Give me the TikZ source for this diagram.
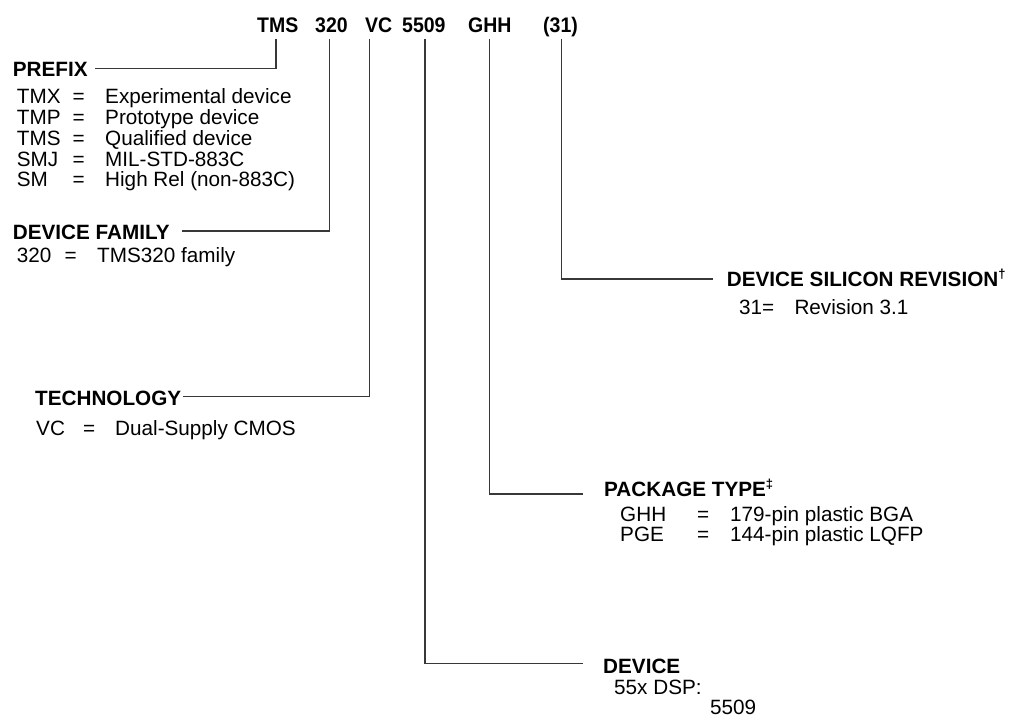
\documentclass[tikz,border=0pt]{standalone}
\usepackage{fontspec}
\setmainfont{Liberation Sans}
\begin{document}
\begin{tikzpicture}[x=1pt,y=-1pt,
  txt/.style={anchor=base west, inner sep=0pt, font=\fontsize{20.7}{24}\selectfont},
  hd/.style={anchor=base west, inner sep=0pt, font=\fontsize{20.7}{24}\selectfont\bfseries},
  ttl/.style={anchor=base west, inner sep=0pt, font=\fontsize{19.5}{22}\selectfont\bfseries},
  ln/.style={line width=1.2pt, draw=black!78}]
\useasboundingbox (0,0) rectangle (1020,723);
% top part number
\node[ttl] (tTMS) at (257,32.7) {\scalebox{1}[1.08]{TMS}};
\node[ttl] (t320) at (315,32.7) {\scalebox{1}[1.08]{320}};
\node[ttl] (tVC) at (365,32.7) {\scalebox{1}[1.08]{VC}};
\node[ttl] (t5509) at (402,32.7) {\scalebox{1}[1.08]{5509}};
\node[ttl] (tGHH) at (468,32.7) {\scalebox{1}[1.08]{GHH}};
\node[ttl] (t31) at (543,32.7) {\scalebox{1}[1.08]{(31)}};
% end coordinates
\coordinate (ePrefix) at (95,68.5);
\coordinate (eFam) at (182,231);
\coordinate (eTech) at (183,396.5);
\coordinate (eRev) at (713,279);
\coordinate (ePkg) at (582.7,494);
\coordinate (eDev) at (582.7,663.5);
% PREFIX
\node[hd] (prefix) at (12.7,76) {PREFIX};
\foreach \i/\c/\d/\y in {1/TMX/Experimental device/103, 2/TMP/Prototype device/124, 3/TMS/Qualified device/145, 4/SMJ/MIL-STD-883C/166, 5/SM/High Rel (non-883C)/186.7}{
  \node[txt] (pc\i) at (16.7,\y) {\c};
  \node[txt] (pe\i) at (72.5,\y) {=};
  \node[txt] (pd\i) at (105,\y) {\d};
}
% DEVICE FAMILY
\node[hd] (family) at (12.7,239) {DEVICE FAMILY};
\node[txt] (fc) at (16.7,262.7) {320};
\node[txt] (fe) at (64.5,262.7) {=};
\node[txt] (fd) at (97,262.7) {TMS320 family};
% TECHNOLOGY
\node[hd] (tech) at (35,405.5) {TECHNOLOGY};
\node[txt] (tc) at (36,435) {VC};
\node[txt] (te) at (83,435) {=};
\node[txt] (td) at (115,435) {Dual-Supply CMOS};
% SILICON REVISION
\node[hd] (rev) at (726.7,286.7) {DEVICE SILICON REVISION\raisebox{0.4em}{\fontsize{13}{13}\selectfont\bfseries †}};
\node[txt] (rc) at (739,314.3) {31=};
\node[txt] (rd) at (794.3,314.3) {Revision 3.1};
% PACKAGE TYPE
\node[hd] (pkg) at (604,496.7) {PACKAGE TYPE\raisebox{0.4em}{\fontsize{13}{13}\selectfont\bfseries ‡}};
\node[txt] (kc1) at (620,521.7) {GHH};
\node[txt] (ke1) at (697,521.7) {=};
\node[txt] (kd1) at (730,521.7) {179-pin plastic BGA};
\node[txt] (kc2) at (620,541.7) {PGE};
\node[txt] (ke2) at (697,541.7) {=};
\node[txt] (kd2) at (730,541.7) {144-pin plastic LQFP};
% DEVICE
\node[hd] (dev) at (603,673.3) {DEVICE};
\node[txt] (dc) at (614,694) {55x DSP:};
\node[txt] (dd) at (710,714) {5509};
% connectors
\draw[ln] ([xshift=19pt,yshift=-5.8pt]tTMS.base west) |- (ePrefix);
\draw[ln] ([xshift=14.3pt,yshift=-5.8pt]t320.base west) |- (eFam);
\draw[ln] ([xshift=4.3pt,yshift=-5.8pt]tVC.base west) |- (eTech);
\draw[ln] ([xshift=23pt,yshift=-5.8pt]t5509.base west) |- (eDev);
\draw[ln] ([xshift=21.3pt,yshift=-5.8pt]tGHH.base west) |- (ePkg);
\draw[ln] ([xshift=18.7pt,yshift=-5.8pt]t31.base west) |- (eRev);
\end{tikzpicture}
\end{document}
